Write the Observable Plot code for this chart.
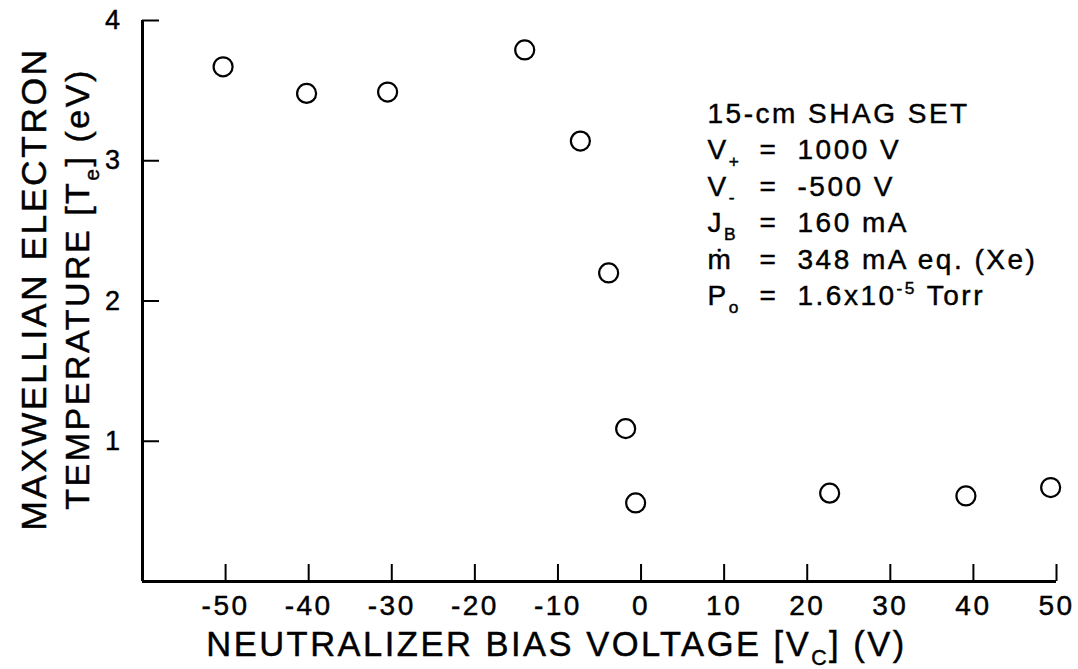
<!DOCTYPE html>
<html>
<head>
<meta charset="utf-8">
<script src="https://cdn.jsdelivr.net/npm/d3@7"></script>
<script src="https://cdn.jsdelivr.net/npm/@observablehq/plot@0.6"></script>
<style>
  html, body { margin: 0; padding: 0; background: #fff; }
  svg text { stroke: #000; stroke-width: 0.45px; }
</style>
</head>
<body>
<div id="chart"></div>
<script>
// ---- data ----
const biasVoltage  = [-50.3, -40.25, -30.5, -14.0, -7.3, -3.9, -1.85, -0.65, 22.7, 39.1, 49.3];
const electronTemp = [3.67, 3.48, 3.49, 3.79, 3.14, 2.20, 1.09, 0.56, 0.63, 0.61, 0.67];
const xTickValues = [-50, -40, -30, -20, -10, 0, 10, 20, 30, 40, 50];
const yTickValues = [1, 2, 3, 4];
const xDomain = [-60, 50];
const yDomain = [0, 4];
const xLabel = "NEUTRALIZER BIAS VOLTAGE [V_{C}] (V)";
const yLabelLine1 = "MAXWELLIAN ELECTRON";
const yLabelLine2 = "TEMPERATURE [T_{e}] (eV)";
const annotationTitle = "15-cm SHAG SET";
const annotationSymbols = ["V_{+}", "V_{-}", "J_{B}", "ṁ", "P_{o}"];
const annotationValues = ["1000 V", "-500 V", "160 mA", "348 mA eq. (Xe)", "1.6x10^{-5} Torr"];

const points = biasVoltage.map((x, i) => ({x, y: electronTemp[i]}));

// ---- layout ----
const W = 1078, H = 669;
const mL = 142, mR = 22, mT = 20, mB = 88;
const plotW = W - mL - mR, plotH = H - mT - mB;
const tickLen = 17;
const annoX = 565, eqX = 617, valX = 655, annoTop = 102, annoStep = 36.5;

const annoMarks = [
  Plot.text([annotationTitle], {text: d => d, frameAnchor: "top-left", textAnchor: "start", lineAnchor: "bottom", dx: annoX, dy: annoTop, fontSize: 28})
];
annotationSymbols.forEach((s, i) => {
  const dy = annoTop + annoStep * (i + 1);
  annoMarks.push(
    Plot.text([s], {text: d => d, frameAnchor: "top-left", textAnchor: "start", lineAnchor: "bottom", dx: annoX, dy, fontSize: 28}),
    Plot.text(["="], {text: d => d, frameAnchor: "top-left", textAnchor: "start", lineAnchor: "bottom", dx: eqX, dy, fontSize: 28}),
    Plot.text([annotationValues[i]], {text: d => d, frameAnchor: "top-left", textAnchor: "start", lineAnchor: "bottom", dx: valX, dy, fontSize: 28})
  );
});

const chart = Plot.plot({
  width: W,
  height: H,
  marginLeft: mL,
  marginRight: mR,
  marginTop: mT,
  marginBottom: mB,
  style: {
    fontFamily: "'Liberation Sans', Arial, Helvetica, sans-serif",
    background: "#fff",
    color: "#000",
    letterSpacing: "2.5px"
  },
  x: {type: "linear", domain: xDomain},
  y: {type: "linear", domain: yDomain},
  marks: [
    // inward ticks
    Plot.tickX(xTickValues, {x: d => d, insetTop: plotH - tickLen, stroke: "#000", strokeWidth: 2}),
    Plot.tickY(yTickValues, {y: d => d, insetRight: plotW - tickLen, stroke: "#000", strokeWidth: 2}),
    // axis lines
    Plot.ruleX([xDomain[0]], {stroke: "#000", strokeWidth: 3}),
    Plot.ruleY([yDomain[0]], {stroke: "#000", strokeWidth: 3}),
    // tick labels
    Plot.axisX(xTickValues, {tickSize: 0, tickPadding: 14, tickFormat: d => String(d), fontSize: 28, label: null}),
    Plot.axisY(yTickValues, {tickSize: 0, tickPadding: 20, tickFormat: d => String(d), fontSize: 27, label: null}),
    // axis titles
    Plot.text([xLabel], {text: d => d, frameAnchor: "bottom", textAnchor: "middle", lineAnchor: "bottom", dx: -43, dy: 74, fontSize: 34.5}),
    Plot.text([yLabelLine1], {text: d => d, frameAnchor: "left", textAnchor: "middle", lineAnchor: "middle", rotate: -90, dx: -108, dy: -12, fontSize: 35.5}),
    Plot.text([yLabelLine2], {text: d => d, frameAnchor: "left", textAnchor: "middle", lineAnchor: "middle", rotate: -90, dx: -64, dy: -12, fontSize: 34}),
    // annotation
    ...annoMarks,
    // data
    Plot.dot(points, {x: "x", y: "y", r: 9.5, stroke: "#000", strokeWidth: 2.2, fill: "#fff"})
  ]
});

document.getElementById("chart").appendChild(chart);

// sub/superscripts: convert _{..} and ^{..} into tspans
d3.select(chart).selectAll("text").each(function () {
  const el = this;
  if (el.querySelector("tspan")) return;
  const s = el.textContent;
  if (!/[_^]\{/.test(s)) return;
  const fs = parseFloat(getComputedStyle(el).fontSize) || 28;
  el.textContent = "";
  const parts = s.split(/([_^]\{[^}]*\})/).filter(p => p.length);
  let shift = 0;
  for (const p of parts) {
    const t = document.createElementNS("http://www.w3.org/2000/svg", "tspan");
    let target = 0, size = null, content = p;
    if (p.startsWith("_{")) { target = 0.28 * fs; size = 0.62 * fs; content = p.slice(2, -1); }
    else if (p.startsWith("^{")) { target = -0.38 * fs; size = 0.62 * fs; content = p.slice(2, -1); }
    const dy = target - shift;
    shift = target;
    if (dy) t.setAttribute("dy", dy.toFixed(2));
    if (size) t.setAttribute("font-size", size.toFixed(2));
    t.textContent = content;
    el.appendChild(t);
  }
});
</script>
</body>
</html>
